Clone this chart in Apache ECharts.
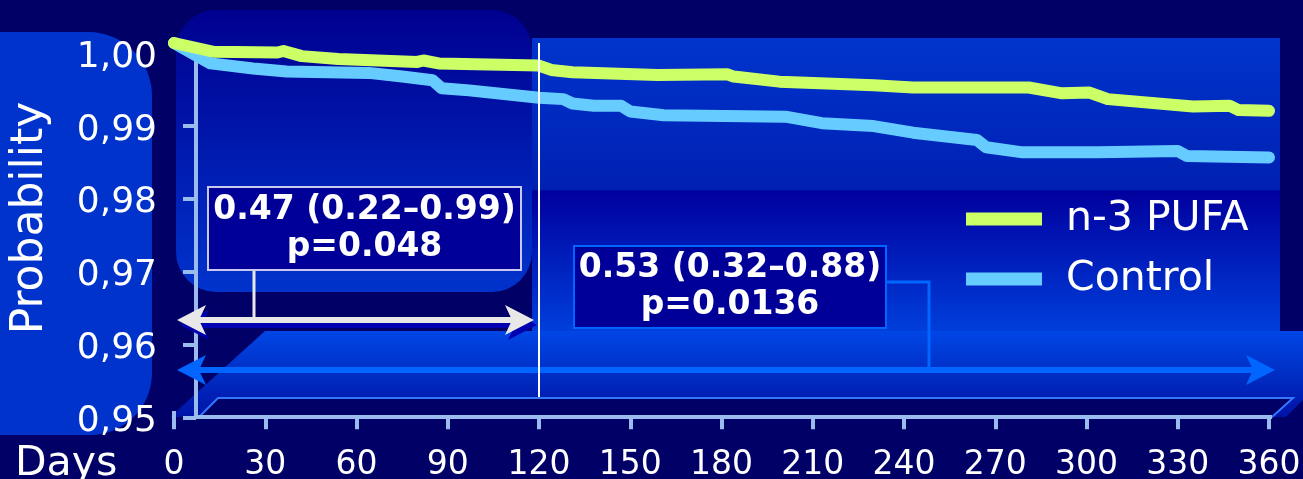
<!DOCTYPE html>
<html>
<head>
<meta charset="utf-8">
<script src="https://cdn.jsdelivr.net/npm/echarts@6/dist/echarts.min.js"></script>
<style>
  html, body { margin: 0; padding: 0; background: #000066; }
  #chart { width: 1303px; height: 479px; }
</style>
</head>
<body>
<div id="chart"></div>
<script>
// Axis ticks
const dayTicks = [0, 30, 60, 90, 120, 150, 180, 210, 240, 270, 300, 330, 360];
const probTicks = [0.95, 0.96, 0.97, 0.98, 0.99, 1.00];

// Kaplan-Meier survival estimates (day, probability)
const n3Days = [0, 13, 34, 36, 42, 54, 80, 82, 87, 120, 124, 131, 159, 182, 184, 199, 230, 243, 281, 292, 301, 307, 335, 347, 350, 360];
const n3Prob = [1.0000, 0.9988, 0.9987, 0.9989, 0.9982, 0.9978, 0.9974, 0.9976, 0.9972, 0.9969, 0.9963, 0.9960, 0.9956, 0.9957, 0.9954, 0.9947, 0.9942, 0.9939, 0.9939, 0.9931, 0.9932, 0.9923, 0.9913, 0.9914, 0.9908, 0.9907];

const ctrlDays = [0, 12, 26, 37, 64, 75, 85, 88, 97, 120, 128, 131, 138, 147, 150, 161, 201, 213, 230, 243, 264, 267, 279, 304, 330, 333, 360];
const ctrlProb = [1.0000, 0.9972, 0.9965, 0.9961, 0.9959, 0.9954, 0.9949, 0.9938, 0.9935, 0.9925, 0.9923, 0.9917, 0.9914, 0.9914, 0.9906, 0.9901, 0.9899, 0.9890, 0.9886, 0.9877, 0.9867, 0.9857, 0.9850, 0.9850, 0.9852, 0.9845, 0.9843];

const seriesNames = ['n-3 PUFA', 'Control'];
const seriesColors = ['#ccff66', '#66ccff'];

// Hazard ratios (95% CI) and p-values for the two follow-up windows
const earlyWindowDays = 120;
const earlyHazard = ['0.47 (0.22\u20130.99)', 'p=0.048'];
const yearHazard = ['0.53 (0.32\u20130.88)', 'p=0.0136'];

const FONT = '"DejaVu Sans", Verdana, sans-serif';
const pairs = (xs, ys) => xs.map((x, i) => [x, ys[i]]);
const vgrad = (stops) => ({
  type: 'linear', x: 0, y: 0, x2: 0, y2: 1,
  colorStops: stops.map(([offset, color]) => ({ offset, color }))
});

const chart = echarts.init(document.getElementById('chart'), null, { renderer: 'canvas' });

const axisBase = {
  type: 'value',
  splitLine: { show: false }
};

chart.setOption({
  backgroundColor: '#000066',
  animation: false,
  grid: [
    // visible axes
    { left: 174, right: 34, top: 52.8, bottom: 61.7, containLabel: false, outerBoundsMode: 'none' },
    // curves
    { left: 174, right: 34, top: 43, bottom: 71.5, containLabel: false, outerBoundsMode: 'none' }
  ],
  xAxis: [
    Object.assign({}, axisBase, {
      gridIndex: 0,
      min: dayTicks[0], max: dayTicks[dayTicks.length - 1], interval: dayTicks[1] - dayTicks[0],
      axisLine: { show: false },
      axisTick: { show: true, length: 12, lineStyle: { color: '#99bbee', width: 4 } },
      axisLabel: { color: '#ffffff', fontSize: 33, fontFamily: FONT, margin: 32 }
    }),
    Object.assign({}, axisBase, {
      gridIndex: 1, show: false,
      min: dayTicks[0], max: dayTicks[dayTicks.length - 1]
    })
  ],
  yAxis: [
    Object.assign({}, axisBase, {
      gridIndex: 0,
      min: probTicks[0], max: probTicks[probTicks.length - 1], interval: 0.01,
      offset: -22,
      axisLine: { show: true, lineStyle: { color: '#99bbee', width: 4 } },
      axisTick: { show: true, length: 13, lineStyle: { color: '#99bbee', width: 4 } },
      axisLabel: {
        color: '#ffffff', fontSize: 36, fontFamily: FONT, margin: 39,
        formatter: (v) => '{p|' + v.toFixed(2).replace('.', ',') + '}',
        rich: {
          p: { color: '#ffffff', fontSize: 36, fontFamily: FONT, padding: [9, 0, 0, 0] }
        }
      }
    }),
    Object.assign({}, axisBase, {
      gridIndex: 1, show: false,
      min: probTicks[0], max: probTicks[probTicks.length - 1]
    })
  ],
  legend: {
    data: seriesNames,
    orient: 'vertical',
    left: 961, top: 184,
    itemWidth: 76, itemHeight: 13, itemGap: 0,
    icon: 'rect',
    textStyle: { color: '#ffffff', fontSize: 41, fontFamily: FONT, lineHeight: 46, padding: [0, 0, 14, 19] }
  },
  series: [
    {
      type: 'line', name: seriesNames[1],
      xAxisIndex: 1, yAxisIndex: 1, z: 3,
      data: pairs(ctrlDays, ctrlProb),
      symbol: 'none', showSymbol: false,
      itemStyle: { color: seriesColors[1] },
      lineStyle: { color: seriesColors[1], width: 12, cap: 'round', join: 'round' }
    },
    {
      type: 'line', name: seriesNames[0],
      xAxisIndex: 1, yAxisIndex: 1, z: 3,
      data: pairs(n3Days, n3Prob),
      symbol: 'none', showSymbol: false,
      itemStyle: { color: seriesColors[0] },
      lineStyle: { color: seriesColors[0], width: 12, cap: 'round', join: 'round' },
      markLine: {
        silent: true, symbol: 'none', z: 5,
        label: { show: false },
        lineStyle: { color: '#ffffff', width: 2, type: 'solid' },
        data: [{ xAxis: earlyWindowDays }]
      }
    }
  ]
});

// Pixel position of a day on the curve axis
const dayX = (d) => chart.convertToPixel({ xAxisIndex: 1 }, d);

function doubleArrow(x1, x2, y, color, z) {
  const head = 29, half = 15, notch = 7;
  return [
    { type: 'line', z, shape: { x1: x1 + head - notch, y1: y, x2: x2 - head + notch, y2: y }, style: { stroke: color, lineWidth: 6 } },
    { type: 'polygon', z, shape: { points: [[x1, y], [x1 + head, y - half], [x1 + head - notch, y], [x1 + head, y + half]] }, style: { fill: color } },
    { type: 'polygon', z, shape: { points: [[x2, y], [x2 - head, y - half], [x2 - head + notch, y], [x2 - head, y + half]] }, style: { fill: color } }
  ];
}

const x0 = dayX(0) + 3;
const xEarly = dayX(earlyWindowDays) - 5;
const xYear = dayX(dayTicks[dayTicks.length - 1]) + 6;

const graphics = [
  // side panel behind the y labels
  { type: 'rect', z: -6, shape: { x: -80, y: 32, width: 232, height: 403, r: [0, 64, 62, 0] }, style: { fill: '#0033cc' } },
  // rounded panel behind the first 120 days
  { type: 'rect', z: -6, shape: { x: 176, y: 10, width: 356, height: 282, r: 40 },
    style: { fill: vgrad([[0, '#000090'], [1, '#0033cc']]) } },
  // plot wall
  { type: 'rect', z: -6, shape: { x: 532, y: 38, width: 748, height: 297 },
    style: { fill: vgrad([[0, '#0034cc'], [0.51, '#0020b2'], [0.515, '#00009e'], [1, '#0040dc']]) } },
  // floor
  { type: 'polygon', z: -5, shape: { points: [[265, 331], [1372, 331], [1286, 417], [170, 417]] },
    style: { fill: vgrad([[0, '#0046e6'], [0.5, '#002ec4'], [1, '#0012a6']]) } },
  // axis base slab
  { type: 'polygon', z: 6, shape: { points: [[218, 398], [1293, 398], [1272, 417], [199, 417]] },
    style: { fill: '#000066', stroke: '#3377ff', lineWidth: 2 } },
  { type: 'line', z: 6, shape: { x1: 196, y1: 417, x2: 1272, y2: 417 }, style: { stroke: '#99bbee', lineWidth: 4 } },
  { type: 'line', z: 6, shape: { x1: 174, y1: 411, x2: 174, y2: 423 }, style: { stroke: '#99bbee', lineWidth: 4 } },

  // axis titles
  { type: 'text', z: 6, x: 31, y: 218, rotation: Math.PI / 2,
    style: { text: 'Probability', fill: '#ffffff', font: '44px ' + FONT, align: 'center', verticalAlign: 'middle' } },
  { type: 'text', z: 6, x: 15, y: 464,
    style: { text: 'Days', fill: '#ffffff', font: '41px ' + FONT, align: 'left', verticalAlign: 'middle' } },

  // follow-up windows
  ...doubleArrow(x0 + 3, xEarly + 3, 325, '#0000b0', 3),
  ...doubleArrow(x0, xEarly, 320, '#e8e8e8', 4),
  ...doubleArrow(x0, xYear, 370, '#0066ff', 4),

  // early window annotation
  { type: 'line', z: 4, shape: { x1: 254, y1: 270, x2: 254, y2: 318 }, style: { stroke: '#e8e8e8', lineWidth: 3 } },
  { type: 'rect', z: 4, shape: { x: 208, y: 187, width: 313, height: 83 }, style: { fill: '#000099', stroke: '#c8c8f0', lineWidth: 2 } },
  { type: 'text', z: 4, x: 364.5, y: 229,
    style: { text: earlyHazard.join('\n'), fill: '#ffffff', font: 'bold 33px ' + FONT, lineHeight: 37, align: 'center', verticalAlign: 'middle' } },

  // one-year annotation
  { type: 'polyline', z: 4, shape: { points: [[886, 282], [929, 282], [929, 368]] }, style: { stroke: '#0066ff', lineWidth: 3, fill: null } },
  { type: 'rect', z: 4, shape: { x: 574, y: 246, width: 312, height: 82 }, style: { fill: '#000099', stroke: '#0066ff', lineWidth: 2 } },
  { type: 'text', z: 4, x: 730, y: 286.5,
    style: { text: yearHazard.join('\n'), fill: '#ffffff', font: 'bold 33px ' + FONT, lineHeight: 37, align: 'center', verticalAlign: 'middle' } }
];

chart.setOption({ graphic: graphics });
</script>
</body>
</html>
